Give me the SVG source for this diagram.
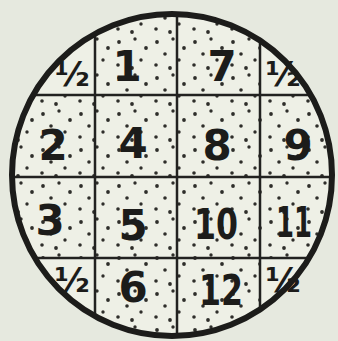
<svg xmlns="http://www.w3.org/2000/svg" width="338" height="341" viewBox="0 0 338 341">
<style>
.num{font-family:"DejaVu Sans","Liberation Sans",sans-serif;font-size:42px;font-weight:bold;fill:#1c1c1a;text-anchor:middle;dominant-baseline:central}
.half{font-family:"DejaVu Sans","Liberation Sans",sans-serif;font-size:34px;font-weight:bold;fill:#1c1c1a;text-anchor:middle;dominant-baseline:central}
.cell{fill:url(#dots)}
.grid{stroke:#222220;stroke-width:2.5;fill:none}
</style>
<defs>
<pattern id="dots" width="38" height="36" patternUnits="userSpaceOnUse">
<rect width="38" height="36" fill="#eef0e6"/>
<g fill="#2e2e2a">
<circle cx="5" cy="6" r="1.9"/>
<circle cx="21" cy="3" r="1.7"/>
<circle cx="32" cy="12" r="1.9"/>
<circle cx="13" cy="18" r="1.8"/>
<circle cx="27" cy="24" r="1.7"/>
<circle cx="4" cy="29" r="1.8"/>
<circle cx="18" cy="32" r="1.9"/>
</g>
</pattern>
<clipPath id="disc"><ellipse cx="172" cy="175" rx="160" ry="161"/></clipPath>
</defs>
<rect width="338" height="341" fill="#e6e9df"/>
<ellipse cx="172" cy="175" rx="160" ry="161" fill="#eef0e6"/>
<g clip-path="url(#disc)">
<g id="cell-1"><rect class="cell" x="95" y="0" width="82" height="95"/></g>
<g id="cell-7"><rect class="cell" x="177" y="0" width="83" height="95"/></g>
<g id="cell-2"><rect class="cell" x="0" y="95" width="95" height="82"/></g>
<g id="cell-4"><rect class="cell" x="95" y="95" width="82" height="82"/></g>
<g id="cell-8"><rect class="cell" x="177" y="95" width="83" height="82"/></g>
<g id="cell-9"><rect class="cell" x="260" y="95" width="80" height="82"/></g>
<g id="cell-3"><rect class="cell" x="0" y="177" width="95" height="81"/></g>
<g id="cell-5"><rect class="cell" x="95" y="177" width="82" height="81"/></g>
<g id="cell-10"><rect class="cell" x="177" y="177" width="83" height="81"/></g>
<g id="cell-11"><rect class="cell" x="260" y="177" width="80" height="81"/></g>
<g id="cell-6"><rect class="cell" x="95" y="258" width="82" height="85"/></g>
<g id="cell-12"><rect class="cell" x="177" y="258" width="83" height="85"/></g>
<g id="grid">
<line class="grid" x1="95" y1="0" x2="95" y2="341"/>
<line class="grid" x1="177" y1="0" x2="177" y2="341"/>
<line class="grid" x1="260" y1="0" x2="260" y2="341"/>
<line class="grid" x1="0" y1="95" x2="338" y2="95"/>
<line class="grid" x1="0" y1="177" x2="338" y2="177"/>
<line class="grid" x1="0" y1="258" x2="338" y2="258"/>
</g>
</g>
<ellipse cx="172" cy="175" rx="160" ry="161" fill="none" stroke="#1c1c1a" stroke-width="6"/>
<g id="labels">
<text class="num" x="127" y="66">1</text>
<text class="num" x="222" y="66">7</text>
<text class="num" x="53" y="145">2</text>
<text class="num" x="133" y="143">4</text>
<text class="num" x="217" y="145">8</text>
<text class="num" x="298" y="145">9</text>
<text class="num" x="50" y="220">3</text>
<text class="num" x="133" y="225">5</text>
<text class="num" x="216" y="224" textLength="44" lengthAdjust="spacingAndGlyphs">10</text>
<text class="num" x="294" y="222" textLength="36" lengthAdjust="spacingAndGlyphs">11</text>
<text class="num" x="133" y="287">6</text>
<text class="num" x="221" y="290" textLength="44" lengthAdjust="spacingAndGlyphs">12</text>
<text class="half" x="72" y="74">½</text>
<text class="half" x="283" y="74">½</text>
<text class="half" x="72" y="280">½</text>
<text class="half" x="283" y="280">½</text>
</g>
</svg>
